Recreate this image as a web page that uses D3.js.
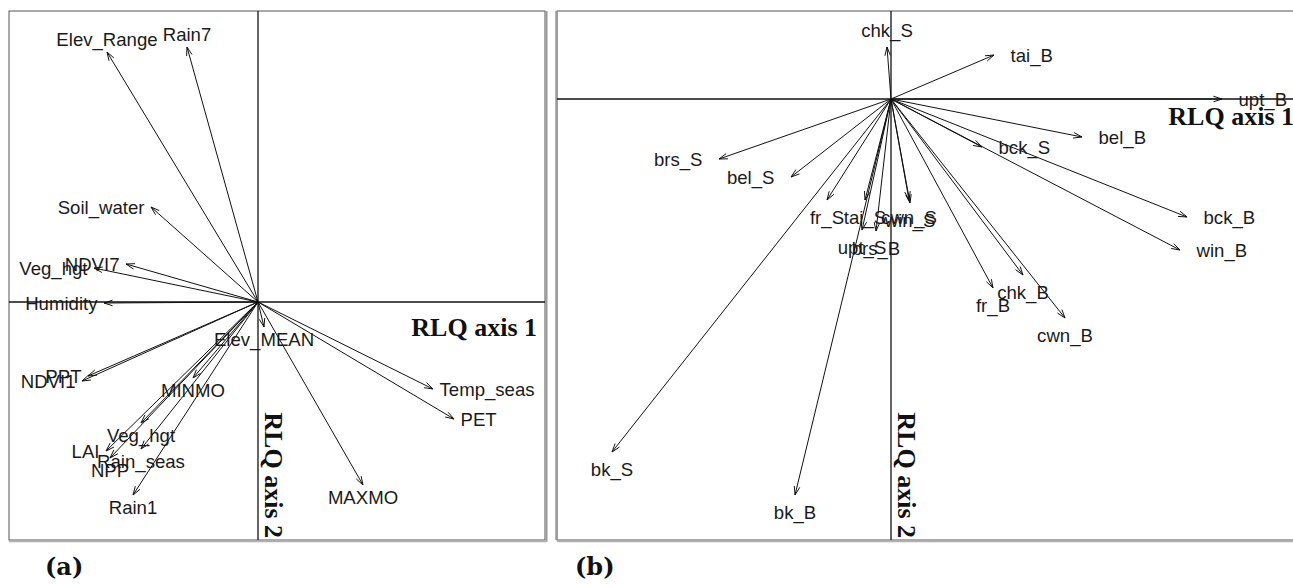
<!DOCTYPE html>
<html>
<head>
<meta charset="utf-8">
<script src="https://cdn.jsdelivr.net/npm/d3@7"></script>
<style>
  body { margin: 0; background: #fff; }
  svg { display: block; }
</style>
</head>
<body>
<svg id="chart" width="1293" height="588"></svg>
<script>
// (a) environmental variables: RLQ scores on axes 1 and 2
const envNames = ["Elev_Range", "Rain7", "Soil_water", "Veg_hgt", "NDVI7", "Humidity",
  "PPT", "NDVI1", "Elev_MEAN", "MINMO", "Veg_hgt", "Rain_seas", "LAI", "NPP",
  "Rain1", "MAXMO", "Temp_seas", "PET"];
const envAxis1 = [-1.51, -0.71, -1.07, -1.64, -1.32, -1.54,
  -1.70, -1.76, 0.06, -0.65, -1.17, -1.17, -1.52, -1.48,
  -1.25, 1.05, 1.75, 1.96];
const envAxis2 = [2.50, 2.55, 0.95, 0.34, 0.38, -0.01,
  -0.74, -0.79, -0.25, -0.76, -1.21, -1.47, -1.49, -1.56,
  -1.93, -1.83, -0.87, -1.17];

// (b) species traits: RLQ scores on axes 1 and 2
const sppNames = ["chk_S", "tai_B", "upt_B", "bel_B", "bck_S", "bck_B", "win_B",
  "chk_B", "fr_B", "cwn_B", "cwn_S", "win_S", "tai_S", "fr_S", "upt_S", "brs_B",
  "bel_S", "brs_S", "bk_S", "bk_B"];
const sppAxis1 = [-0.04, 1.03, 3.31, 1.91, 0.91, 2.96, 2.89,
  1.32, 1.02, 1.74, 0.18, 0.19, -0.26, -0.64, -0.29, -0.15,
  -1.00, -1.72, -2.79, -0.96];
const sppAxis2 = [0.52, 0.44, 0.00, -0.38, -0.48, -1.18, -1.51,
  -1.76, -1.89, -2.19, -1.01, -1.04, -1.01, -1.01, -1.31, -1.32,
  -0.78, -0.60, -3.53, -3.96];

const axisTitles = ["RLQ axis 1", "RLQ axis 2"];
const panelTags = ["(a)", "(b)"];

const svg = d3.select("#chart");

const panels = [
  {
    names: envNames, ax1: envAxis1, ax2: envAxis2, tag: panelTags[0],
    box: { left: 9, top: 11, right: 545, bottom: 540 },
    xDomain: [-2.49, 2.87], yDomain: [-2.38, 2.91],
    hpad: 6.5, vpad: 12.5, ax1Base: 336, tagX: 45,
    leftShade: false
  },
  {
    names: sppNames, ax1: sppAxis1, ax2: sppAxis2, tag: panelTags[1],
    box: { left: 557, top: 11, right: 1302, bottom: 540 },
    xDomain: [-3.34, 4.11], yDomain: [-4.41, 0.88],
    hpad: 16.5, vpad: 17, ax1Base: 125, tagX: 575,
    leftShade: true
  }
];

const labelFont = "'Liberation Sans', Arial, sans-serif";
const titleFont = "'Liberation Serif', 'Times New Roman', serif";

function drawPanel(p) {
  const b = p.box;
  const x = d3.scaleLinear().domain(p.xDomain).range([b.left, b.right]);
  const y = d3.scaleLinear().domain(p.yDomain).range([b.bottom, b.top]);
  const g = svg.append("g");

  // frame with its soft grey edge
  g.append("rect")
    .attr("x", b.left).attr("y", b.top)
    .attr("width", b.right - b.left).attr("height", b.bottom - b.top)
    .attr("fill", "#fff").attr("stroke", "#555").attr("stroke-width", 1);
  g.append("line")
    .attr("x1", b.right + 1.5).attr("x2", b.right + 1.5)
    .attr("y1", b.top).attr("y2", b.bottom + 2)
    .attr("stroke", "#9a9a9a").attr("stroke-width", 2);
  g.append("line")
    .attr("x1", b.left).attr("x2", b.right + 2)
    .attr("y1", b.bottom + 1.5).attr("y2", b.bottom + 1.5)
    .attr("stroke", "#b0b0b0").attr("stroke-width", 1.5);
  if (p.leftShade) {
    g.append("line")
      .attr("x1", b.left - 0.5).attr("x2", b.left - 0.5)
      .attr("y1", b.top).attr("y2", b.bottom)
      .attr("stroke", "#9a9a9a").attr("stroke-width", 2.5);
  }

  const x0 = x(0), y0 = y(0);

  // axes through the origin
  g.append("line")
    .attr("x1", b.left).attr("x2", b.right)
    .attr("y1", y0).attr("y2", y0)
    .attr("stroke", "#111").attr("stroke-width", 1.3);
  g.append("line")
    .attr("x1", x0).attr("x2", x0)
    .attr("y1", b.top).attr("y2", b.bottom)
    .attr("stroke", "#111").attr("stroke-width", 1.3);

  const data = p.names.map((n, i) => ({ name: n, v1: p.ax1[i], v2: p.ax2[i] }));

  // arrows
  const headLen = 9, headAng = 18 * Math.PI / 180;
  const arrows = g.append("g").attr("stroke", "#111").attr("stroke-width", 1).attr("fill", "none");
  data.forEach(d => {
    const tx = x(d.v1), ty = y(d.v2);
    arrows.append("line")
      .attr("x1", x0).attr("y1", y0).attr("x2", tx).attr("y2", ty);
    const th = Math.atan2(ty - y0, tx - x0);
    const path = d3.path();
    path.moveTo(tx - headLen * Math.cos(th - headAng), ty - headLen * Math.sin(th - headAng));
    path.lineTo(tx, ty);
    path.lineTo(tx - headLen * Math.cos(th + headAng), ty - headLen * Math.sin(th + headAng));
    arrows.append("path").attr("d", path.toString());
  });

  // labels placed beyond each arrow tip, on the side the arrow points to
  const capHalf = 6.7;
  const labels = g.append("g")
    .attr("font-family", labelFont).attr("font-size", 18.6).attr("fill", "#1a1a1a");
  data.forEach(d => {
    const tx = x(d.v1), ty = y(d.v2);
    const a = d.v1, c = d.v2;
    let lx = tx, ly = ty, anchor = "middle";
    if (a > c && a > -c) { lx = tx + p.hpad; anchor = "start"; }
    else if (a > c && a <= -c) { ly = ty + p.vpad; }
    else if (a <= c && a <= -c) { lx = tx - p.hpad; anchor = "end"; }
    else { ly = ty - p.vpad; }
    labels.append("text")
      .attr("x", lx).attr("y", ly + capHalf)
      .attr("text-anchor", anchor)
      .text(d.name);
  });

  // axis titles
  g.append("text")
    .attr("x", b.right - 8).attr("y", p.ax1Base)
    .attr("text-anchor", "end")
    .attr("font-family", titleFont).attr("font-weight", "bold").attr("font-size", 26)
    .attr("fill", "#111")
    .text(axisTitles[0]);
  g.append("text")
    .attr("transform", `translate(${x0 + 7},${b.bottom - 2}) rotate(90)`)
    .attr("text-anchor", "end")
    .attr("font-family", titleFont).attr("font-weight", "bold").attr("font-size", 26)
    .attr("fill", "#111")
    .text(axisTitles[1]);

  // panel tag
  svg.append("text")
    .attr("x", p.tagX).attr("y", 575)
    .attr("font-family", "'DejaVu Serif', serif").attr("font-weight", "bold")
    .attr("font-size", 24).attr("fill", "#111")
    .text(p.tag);
}

panels.forEach(drawPanel);
</script>
</body>
</html>
